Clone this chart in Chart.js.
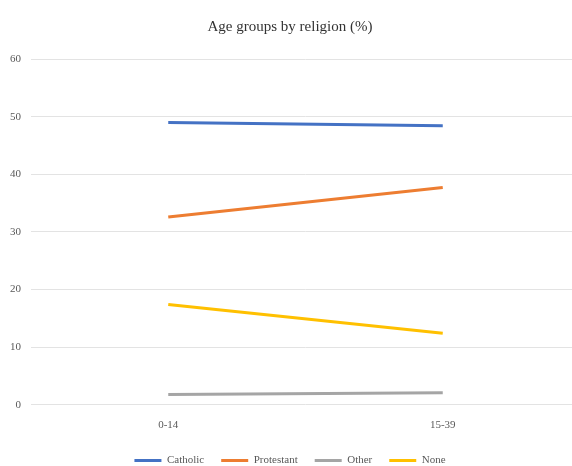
<!DOCTYPE html>
<html>
<head>
<meta charset="utf-8">
<script src="https://cdn.jsdelivr.net/npm/chart.js@4/dist/chart.umd.min.js"></script>
<style>
  html, body { margin: 0; padding: 0; background: #fff; overflow: hidden; }
  #wrap { width: 580px; height: 466px; }
</style>
</head>
<body>
<div id="wrap"><canvas id="myChart"></canvas></div>
<script>
var ageGroups = ['0-14', '15-39'];
var catholic = [49.0, 48.4];
var protestant = [32.6, 37.7];
var other = [1.8, 2.1];
var none = [17.4, 12.4];
var yTicks = [0, 10, 20, 30, 40, 50, 60];

var serif = '"Liberation Serif", "Times New Roman", serif';

function series(label, data, color) {
  return {
    label: label,
    data: data,
    borderColor: color,
    backgroundColor: color,
    borderWidth: 3,
    pointRadius: 0,
    pointHoverRadius: 0,
    pointStyle: 'line',
    fill: false,
    tension: 0
  };
}

var ctx = document.getElementById('myChart');
var myChart = new Chart(ctx, {
  type: 'line',
  data: {
    labels: ageGroups,
    datasets: [
      series('Catholic', catholic, '#4472C4'),
      series('Protestant', protestant, '#ED7D31'),
      series('Other', other, '#A5A5A5'),
      series('None', none, '#FFC000')
    ]
  },
  options: {
    responsive: true,
    maintainAspectRatio: false,
    animation: false,
    layout: { padding: { left: 0, right: 0, top: 10, bottom: -10 } },
    plugins: {
      title: {
        display: true,
        text: 'Age groups by religion (%)',
        color: '#333333',
        font: { family: serif, size: 15, weight: 'normal' },
        padding: { top: 8, bottom: 23 }
      },
      legend: {
        position: 'bottom',
        labels: {
          usePointStyle: true,
          pointStyleWidth: 27,
          color: '#595959',
          font: { family: serif, size: 11 },
          padding: 17
        }
      },
      tooltip: { enabled: false }
    },
    scales: {
      x: {
        offset: true,
        grid: { display: false },
        border: { display: false },
        ticks: { color: '#595959', font: { family: serif, size: 11 }, padding: 6 }
      },
      y: {
        min: 0,
        max: 60,
        afterBuildTicks: function (axis) {
          axis.ticks = yTicks.map(function (v) { return { value: v }; });
        },
        grid: { color: '#e3e3e3', lineWidth: 1, drawTicks: false },
        border: { display: false },
        ticks: { color: '#595959', font: { family: serif, size: 11 }, padding: 10 }
      }
    }
  }
});
</script>
</body>
</html>
